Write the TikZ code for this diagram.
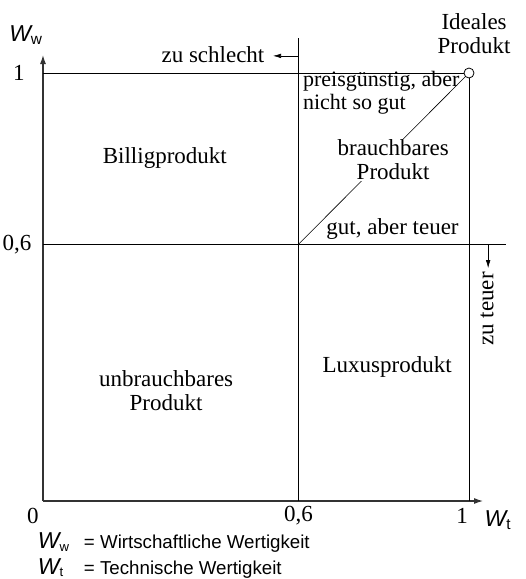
\documentclass[tikz,border=0pt]{standalone}
\usepackage{fontspec}
\setmainfont{Liberation Serif}
\setsansfont{Liberation Sans}
\usetikzlibrary{arrows.meta}

\newcommand{\wsym}[1]{{\sffamily{\fontsize{23}{23}\selectfont\itshape W}\textsubscript{\upshape #1}}}

\begin{document}
\begin{tikzpicture}[x=426pt, y=428pt, font=\fontsize{23}{24}\selectfont,
  axis/.style={line width=1.2pt, draw=black!80, -{Latex[length=9pt,width=6pt]}},
  axislabel/.style={font=\fontsize{22}{24}\selectfont},
  field/.style={line width=0.8pt},
  hint/.style={line width=0.6pt, -{Latex[length=8pt,width=4.5pt]}},
  legend/.style={font=\sffamily\fontsize{18.7}{22}\selectfont, anchor=west}]
  \useasboundingbox (-0.1009,-0.1822) rectangle (1.1338,1.1706);

  % Axes
  \coordinate (O) at (0,0);
  \coordinate (xend) at (1.033,0);
  \coordinate (yend) at (0,1.042);
  \draw[axis] (O) -- (xend);
  \draw[axis] (O) -- (yend);
  \node[axislabel] (Ww) at (-0.040,1.089) {\wsym{w}};
  \node[axislabel] (Wt) at (1.068,-0.044) {\wsym{t}};

  % Tick labels
  \node[anchor=east] (y1) at (-0.035,1) {1};
  \node[anchor=east] (y06) at (-0.019,0.6) {0,6};
  \node (x0) at (-0.0235,-0.035) {0};
  \node (x06) at (0.6,-0.035) {0,6};
  \node (x1) at (0.984,-0.035) {1};

  % Field lines
  \coordinate (top0) at (0,1);
  \coordinate (mid0) at (0,0.6);
  \coordinate (midend) at (1.087,0.6);
  \coordinate (bot06) at (0.6,0);
  \coordinate (center) at (0.6,0.6);
  \coordinate (top06) at (0.6,1.082);
  \coordinate (bot1) at (1,0);
  \node[circle, draw, line width=0.8pt, fill=white, inner sep=0pt, minimum size=10pt] (ideal) at (1,1) {};
  \draw[field] (top0) -- (ideal.west);
  \draw[field] (bot1) -- (ideal.south);
  \draw[field] (mid0) -- (midend);
  \draw[field] (bot06) -- (top06);
  \draw[line width=0.6pt] (center) -- (ideal.south west);

  % Limits
  \coordinate (badstart) at (0.6,1.04);
  \coordinate (badtip) at (0.540,1.04);
  \coordinate (deartop) at (1.045,0.6);
  \coordinate (deartip) at (1.045,0.544);
  \draw[hint] (badstart) -- (badtip);
  \draw[hint] (deartop) -- (deartip);
  \node[anchor=east] (bad) at (0.528,1.042) {zu schlecht};
  \node[rotate=90] (dear) at (1.042,0.449) {zu teuer};

  % Region labels
  \node[align=center] (idealtxt) at (1.012,1.092) {Ideales\\Produkt};
  \node[align=left, anchor=west, inner sep=0pt, font=\fontsize{22}{23}\selectfont] (cheap) at (0.610,0.955) {preisg\"unstig, aber\\nicht so gut};
  \node[align=center, fill=white, inner sep=1pt] (usable) at (0.822,0.797) {brauchbares\\Produkt};
  \node[anchor=east] (good) at (0.984,0.636) {gut, aber teuer};
  \node (billig) at (0.286,0.801) {Billigprodukt};
  \node[align=center] (useless) at (0.289,0.259) {unbrauchbares\\Produkt};
  \node (luxus) at (0.808,0.313) {Luxusprodukt};

  % Legend
  \node[legend] (legw) at (-0.02,-0.098) {\makebox[46pt][l]{\wsym{w}}= Wirtschaftliche Wertigkeit};
  \node[legend] (legt) at (-0.02,-0.157) {\makebox[46pt][l]{\wsym{t}}= Technische Wertigkeit};
\end{tikzpicture}
\end{document}
